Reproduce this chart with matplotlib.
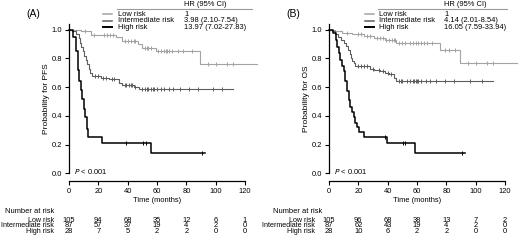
"""Kaplan-Meier curves for PFS and OS by risk group"""

import matplotlib.pyplot as plt
import numpy as np
from matplotlib.lines import Line2D

plt.rcParams["font.family"] = ["Liberation Sans", "DejaVu Sans"]

groups = ["Low risk", "Intermediate risk", "High risk"]
colors = ["#a3a3a3", "#5e5e5e", "#000000"]
widths = [0.8, 0.8, 1.1]

# ---- PFS (panel A) ----
pfs_low_t = [0, 8.5, 15, 32, 36, 47, 50, 59, 89]
pfs_low_s = [1.0, 0.99, 0.965, 0.95, 0.925, 0.9, 0.875, 0.85, 0.76]
pfs_low_end = 128
pfs_low_cens = [11, 17, 24, 26, 28, 30, 38, 40, 42, 44, 45, 52, 53, 54, 56,
                61, 63, 65, 66, 67, 68, 70, 74, 78, 84, 95, 100, 108, 112]

pfs_mid_t = [0, 2, 5, 6.5, 7.5, 8.5, 9.5, 10.5, 11.5, 12.5, 13.5, 14.5, 16,
             21.5, 27, 34, 36, 44, 48]
pfs_mid_s = [1.0, 0.99, 0.97, 0.94, 0.91, 0.88, 0.85, 0.82, 0.79, 0.76, 0.73,
             0.70, 0.675, 0.665, 0.655, 0.63, 0.615, 0.60, 0.59]
pfs_mid_end = 112
pfs_mid_cens = [18, 20, 23, 25, 29, 31, 38, 39, 41, 42, 43, 45, 50, 52, 53, 54,
                56, 57, 58, 60, 63, 65, 68, 71, 76, 82, 88, 98, 104]

pfs_high_t = [0, 3, 5, 6, 7, 8, 9, 10, 11, 12, 13, 22.5, 56]
pfs_high_s = [1.0, 0.95, 0.85, 0.72, 0.64, 0.58, 0.52, 0.45, 0.39, 0.31, 0.25,
              0.21, 0.14]
pfs_high_end = 92.5
pfs_high_cens = [39, 50.5, 52.5, 90.5]

# ---- OS (panel B) ----
os_low_t = [0, 4, 9, 16, 24, 31, 38, 46, 76, 89]
os_low_s = [1.0, 0.99, 0.98, 0.97, 0.955, 0.94, 0.93, 0.91, 0.86, 0.77]
os_low_end = 128
os_low_cens = [12, 20, 22, 26, 28, 33, 35, 37, 39, 41, 43, 44, 45, 48, 50, 52,
               55, 57, 59, 61, 63, 65, 67, 70, 79, 82, 86, 95, 100, 108, 112]

os_mid_t = [0, 2, 4, 6, 8, 10, 11.5, 13, 14, 15, 16, 17, 18, 28, 31, 35, 38,
            41, 44, 46]
os_mid_s = [1.0, 0.99, 0.97, 0.95, 0.93, 0.91, 0.89, 0.86, 0.83, 0.80, 0.78,
            0.765, 0.745, 0.73, 0.72, 0.71, 0.70, 0.69, 0.665, 0.645]
os_mid_end = 112
os_mid_cens = [20, 22, 24, 26, 30, 34, 37, 40, 42, 48, 49, 50, 53, 55, 57, 58,
               59, 60, 61, 63, 66, 69, 73, 79, 85, 96, 104]

os_high_t = [0, 3, 4.5, 5.5, 6.6, 7.7, 8.9, 10, 11.1, 12.3, 13.4, 14.5, 15.7,
             16.8, 17.9, 19.1, 20.2, 23.7, 39.5, 58.8]
os_high_s = [1.0, 0.98, 0.93, 0.88, 0.84, 0.79, 0.75, 0.71, 0.64, 0.57, 0.51,
             0.46, 0.43, 0.39, 0.35, 0.325, 0.29, 0.25, 0.21, 0.14]
os_high_end = 92.5
os_high_cens = [38.5, 50.5, 52, 90.5]

hr_pfs = ["1", "3.98 (2.10-7.54)", "13.97 (7.02-27.83)"]
hr_os = ["1", "4.14 (2.01-8.54)", "16.05 (7.59-33.94)"]

risk_times = [0, 20, 40, 60, 80, 100, 120]
risk_pfs = [[105, 94, 68, 35, 12, 6, 1],
            [87, 57, 37, 19, 4, 2, 0],
            [28, 7, 5, 2, 2, 0, 0]]
risk_os = [[105, 96, 68, 38, 13, 7, 2],
           [87, 62, 43, 19, 4, 2, 0],
           [28, 10, 6, 2, 2, 0, 0]]

W, H = 520, 241
fig = plt.figure(figsize=(W / 100, H / 100), dpi=100)
FS = 5.4
FS_ROW = 5.1


def fx(px):
    return px / W


def fy(py):
    return 1 - py / H


def km(ax, t, s, end, cens, color, lw):
    t = np.asarray(t, float)
    s = np.asarray(s, float)
    x = np.append(t, end)
    y = np.append(s, s[-1])
    ax.step(x, y, where="post", color=color, lw=lw, clip_on=False)
    c = np.asarray(cens, float)
    cs = s[np.searchsorted(t, c, side="right") - 1]
    ax.plot(c, cs, ls="none", marker="|", ms=3, mew=0.7, color=color,
            clip_on=False)


panels = [
    dict(x0=69, label="(A)", ylab="Probability for PFS", hr=hr_pfs, risk=risk_pfs,
         curves=[(pfs_low_t, pfs_low_s, pfs_low_end, pfs_low_cens),
                 (pfs_mid_t, pfs_mid_s, pfs_mid_end, pfs_mid_cens),
                 (pfs_high_t, pfs_high_s, pfs_high_end, pfs_high_cens)],
         lab_x=33, ylab_x=47, leg_x=103, txt_x=118, hr_x=184, hl=(117, 252),
         nar_x=5, row_x=54),
    dict(x0=329, label="(B)", ylab="Probability for OS", hr=hr_os, risk=risk_os,
         curves=[(os_low_t, os_low_s, os_low_end, os_low_cens),
                 (os_mid_t, os_mid_s, os_mid_end, os_mid_cens),
                 (os_high_t, os_high_s, os_high_end, os_high_cens)],
         lab_x=293, ylab_x=306, leg_x=365, txt_x=379, hr_x=444, hl=(378, 507),
         nar_x=273, row_x=315),
]

top_px, bot_px = 24, 173.3
for p in panels:
    ax = fig.add_axes([fx(p["x0"]), fy(bot_px), 176 / W, (bot_px - top_px) / H])
    for (t, s, end, cens), col, lw in zip(p["curves"], colors, widths):
        km(ax, t, s, end, cens, col, lw)
    ax.set_xlim(0, 120)
    ax.set_ylim(0, 1.04)
    ax.set_xticks(np.arange(0, 121, 20))
    ax.set_yticks(np.arange(0, 1.01, 0.2))
    ax.set_yticklabels([f"{v:.1f}" for v in np.arange(0, 1.01, 0.2)])
    ax.spines[["top", "right"]].set_visible(False)
    ax.spines["bottom"].set_position(("outward", 5.3))
    for sp in ("left", "bottom"):
        ax.spines[sp].set_linewidth(0.9)
    ax.tick_params(labelsize=FS, length=3, width=0.8, pad=2)
    ax.set_xlabel("Time (months)", fontsize=FS, labelpad=2)
    ax.text(3.5, 0.015, "$P$ < 0.001", fontsize=FS, va="center", ha="left")

    fig.text(fx(p["ylab_x"]), fy((top_px + bot_px) / 2), p["ylab"], rotation=90,
             fontsize=FS + 0.6, ha="center", va="center")
    fig.text(fx(p["lab_x"]), fy(14), p["label"], fontsize=7.5, ha="center",
             va="center")

    # legend with hazard ratios
    fig.text(fx(p["hr_x"]), fy(4.7), "HR (95% CI)", fontsize=FS, va="center")
    fig.add_artist(Line2D([fx(p["hl"][0]), fx(p["hl"][1])], [fy(9), fy(9)],
                          color="#999999", lw=0.8))
    for i, (g, col, lw) in enumerate(zip(groups, colors, widths)):
        yy = fy(14 + 6.6 * i)
        fig.add_artist(Line2D([fx(p["leg_x"]), fx(p["leg_x"] + 9)], [yy, yy],
                              color=col, lw=lw + 0.3))
        fig.text(fx(p["txt_x"]), yy, g, fontsize=FS, va="center")
        fig.text(fx(p["hr_x"]), yy, p["hr"][i], fontsize=FS, va="center")

    # number at risk table
    fig.text(fx(p["nar_x"]), fy(211.7), "Number at risk", fontsize=FS,
             va="center")
    for i, g in enumerate(groups):
        yy = fy(220 + 5.9 * i)
        fig.text(fx(p["row_x"]), yy, g, fontsize=FS_ROW, va="center", ha="right")
        for tt, n in zip(risk_times, p["risk"][i]):
            xx = p["x0"] + tt / 120 * 176
            fig.text(fx(xx), yy, str(n), fontsize=FS, va="center", ha="center")

fig.savefig("out.png", dpi=100)
